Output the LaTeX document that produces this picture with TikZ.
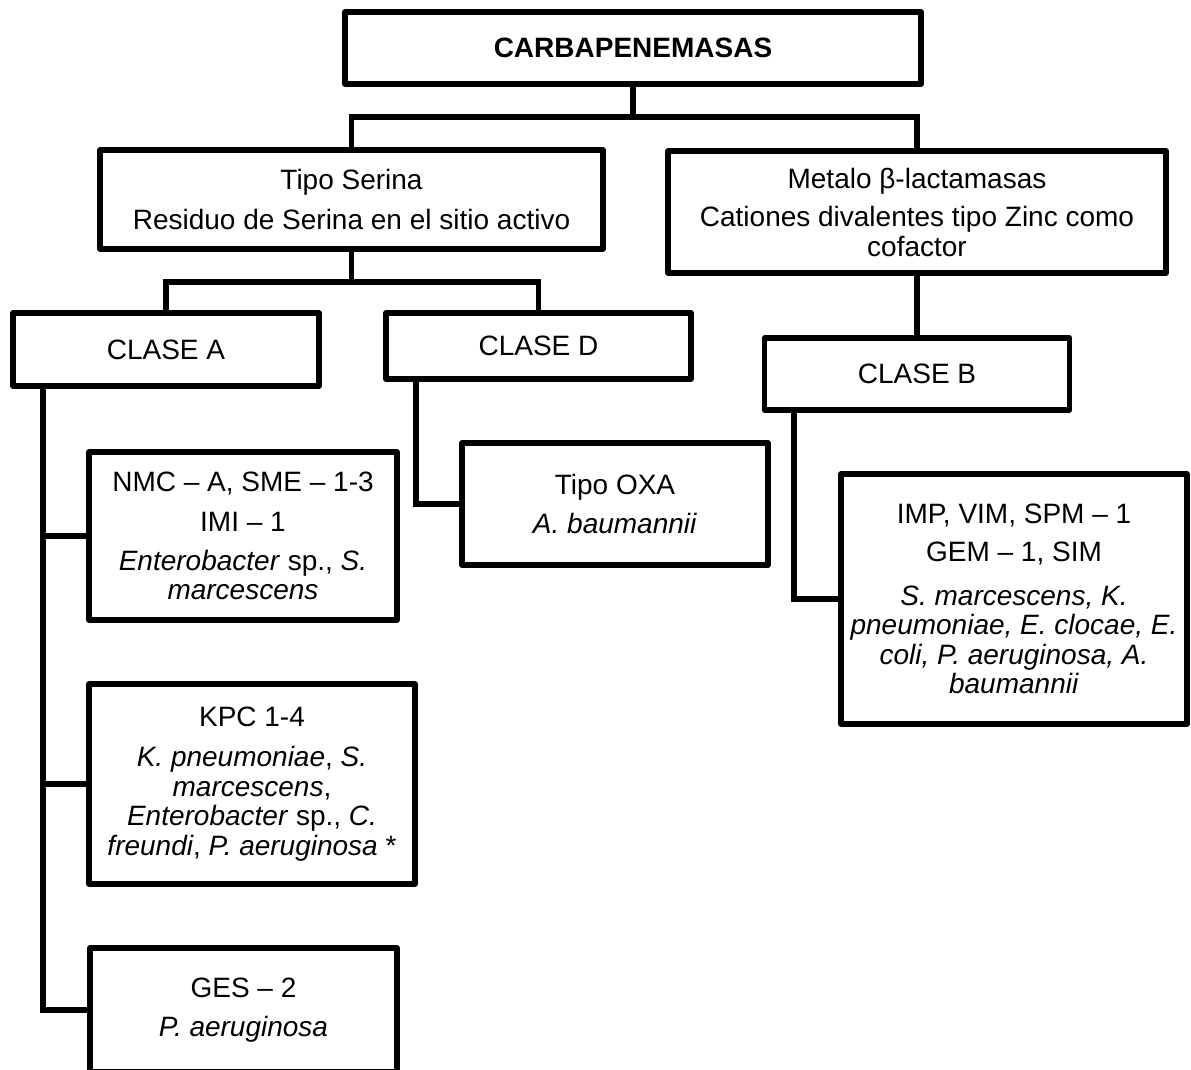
\documentclass[tikz,border=0pt]{standalone}
\usepackage{fontspec}
\setmainfont{Liberation Sans}
\begin{document}
\begin{tikzpicture}[x=1pt,y=-1pt,
  box/.style={draw, line width=5.5pt, line join=round, inner sep=0pt, align=center,
    font=\fontsize{28}{29.5}\selectfont},
  conn/.style={line width=5.5pt, line join=miter}]
\useasboundingbox (0,0) rectangle (1191,1070);
\clip (0,0) rectangle (1191,1070);
% boxes
\node[box, minimum width=576pt, minimum height=72pt] (title) at (633,48) {\textbf{CARBAPENEMASAS}};
\node[box, minimum width=503pt, minimum height=99pt] (serina) at (351.5,199.5)
  {Tipo Serina\\[11pt]Residuo de Serina en el sitio activo};
\node[box, minimum width=498pt, minimum height=122pt] (metalo) at (917,212)
  {Metalo β-lactamasas\\[9pt]Cationes divalentes tipo Zinc como\\cofactor};
\node[box, minimum width=306pt, minimum height=73pt] (claseA) at (166,349.5) {CLASE A};
\node[box, minimum width=305pt, minimum height=66pt] (claseD) at (538.5,346) {CLASE D};
\node[box, minimum width=305pt, minimum height=72pt] (claseB) at (917,374) {CLASE B};
\node[box, minimum width=308pt, minimum height=168pt] (nmc) at (243,536)
  {NMC – A, SME – 1-3\\[11pt]IMI – 1\\[9pt]\textit{Enterobacter} sp., \textit{S.}\\\textit{marcescens}};
\node[box, minimum width=326pt, minimum height=200pt] (kpc) at (252,784)
  {KPC 1-4\\[11pt]\textit{K. pneumoniae}, \textit{S.}\\\textit{marcescens},\\\textit{Enterobacter} sp., \textit{C.}\\\textit{freundi}, \textit{P. aeruginosa} *};
\node[box, minimum width=307pt, minimum height=124pt] (ges) at (243.5,1010)
  {GES – 2\\[10pt]\textit{P. aeruginosa}};
\node[box, minimum width=306pt, minimum height=122pt] (oxa) at (615,504)
  {Tipo OXA\\[9pt]\textit{A. baumannii}};
\node[box, minimum width=346pt, minimum height=250pt] (imp) at (1014,599)
  {IMP, VIM, SPM – 1\\[9pt]GEM – 1, SIM\\[14pt]\textit{S. marcescens, K.}\\\textit{pneumoniae, E. clocae, E.}\\\textit{coli, P. aeruginosa, A.}\\\textit{baumannii}};
% junction coordinates
\coordinate (j1) at (633,117);
\coordinate (j2) at (351.5,282);
\coordinate (a0) at (43,386);
\coordinate (d0) at (416,379);
\coordinate (b0) at (794,410);
% connectors
\draw[conn] (title.south) -- (j1);
\draw[conn] (serina.north) |- (j1) -| (metalo.north);
\draw[conn] (serina.south) -- (j2);
\draw[conn] (claseA.north) |- (j2) -| (claseD.north);
\draw[conn] (metalo.south) -- (claseB.north);
\draw[conn] (a0) |- (ges.west);
\draw[conn] (nmc.west) -- (nmc.west -| a0);
\draw[conn] (kpc.west) -- (kpc.west -| a0);
\draw[conn] (d0) |- (oxa.west);
\draw[conn] (b0) |- (imp.west);
\end{tikzpicture}
\end{document}
